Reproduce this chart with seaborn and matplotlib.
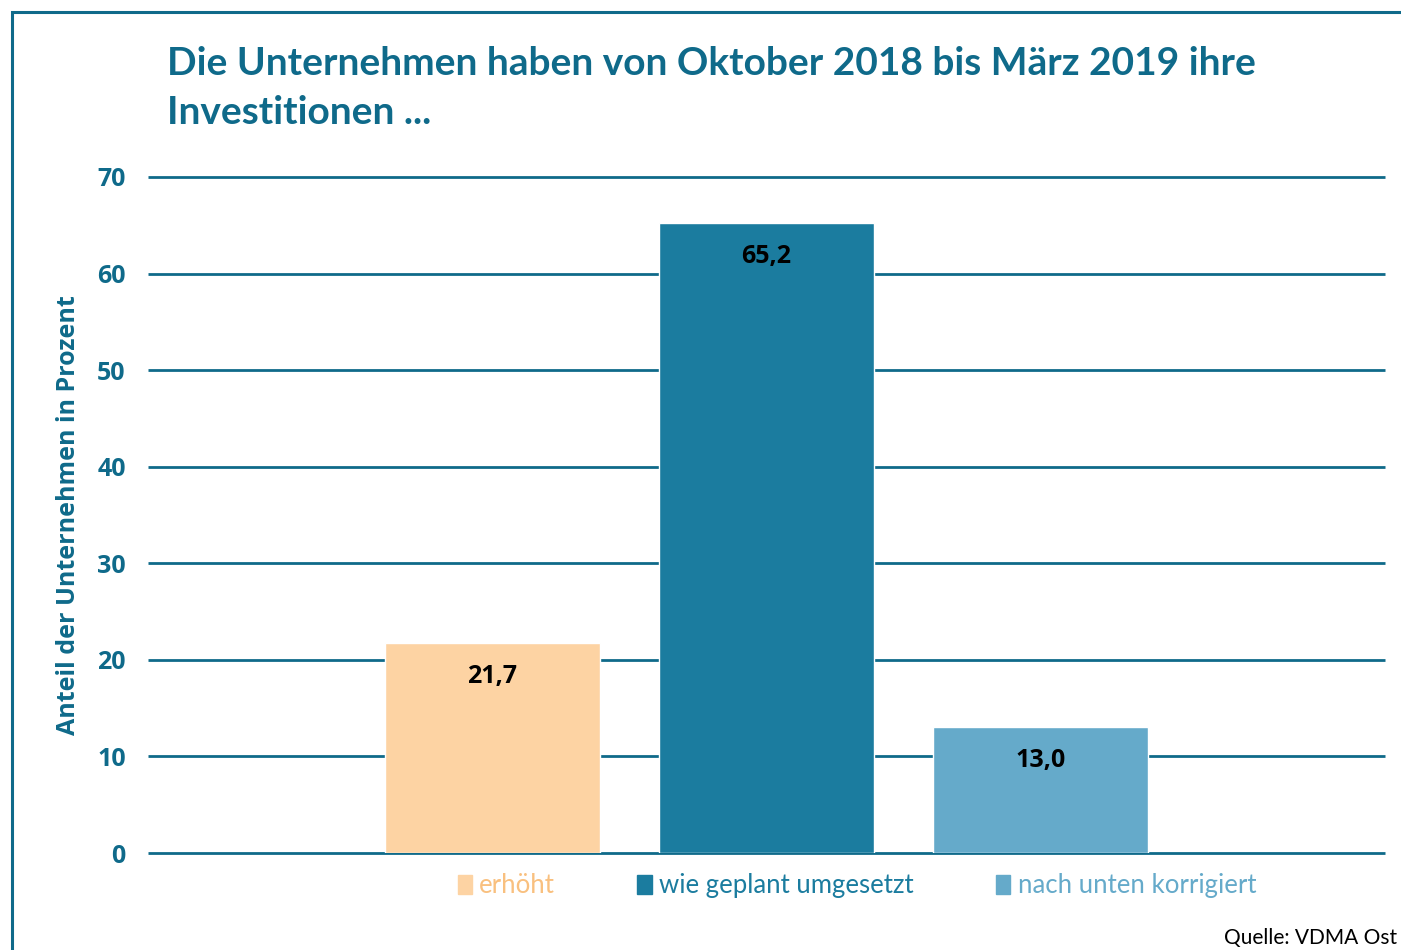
import pandas as pd
import matplotlib
matplotlib.use('Agg')
import matplotlib.pyplot as plt
import seaborn as sns
from matplotlib.patches import Rectangle

# Daten
kategorien = ['erhöht', 'wie geplant umgesetzt', 'nach unten korrigiert']
anteile = [21.7, 65.2, 13.0]
werte_text = ['21,7', '65,2', '13,0']
farben = ['#FDD3A3', '#1B7C9F', '#65AACA']
y_ticks = [0, 10, 20, 30, 40, 50, 60, 70]

teal = '#0F6A8A'

sns.set_theme(style='white')
plt.rcParams['font.family'] = ['Open Sans', 'DejaVu Sans']

df = pd.DataFrame({'gruppe': [''] * 3, 'Kategorie': kategorien, 'Anteil': anteile})

fig = plt.figure(figsize=(14.01, 9.5), dpi=100)
ax = fig.add_axes([0.1056, 0.1021, 0.883, 0.7116])

sns.barplot(data=df, x='gruppe', y='Anteil', hue='Kategorie', hue_order=kategorien,
            palette=farben, width=0.665, gap=0.215, edgecolor='white', linewidth=1,
            saturation=1, ax=ax, zorder=3)

ax.set_xlim(-0.5, 0.5)
ax.set_ylim(0, 70)
ax.set_yticks(y_ticks)
ax.set_yticklabels([str(t) for t in y_ticks], fontsize=18, fontweight='bold', color=teal)
ax.tick_params(axis='y', length=0, pad=16)
ax.set_xticks([])
ax.set_xlabel('')
ax.set_ylabel('Anteil der Unternehmen in Prozent', fontsize=18, fontweight='bold',
              color=teal)
ax.yaxis.set_label_coords(-0.054, 0.50)
for s in ax.spines.values():
    s.set_visible(False)
ax.grid(axis='y', color=teal, linewidth=2, zorder=0)
for gl in ax.get_ygridlines():
    gl.set_clip_on(False)
    gl.set_solid_capstyle('butt')
ax.set_axisbelow(True)

for cont, txt in zip(ax.containers, werte_text):
    ax.bar_label(cont, labels=[txt], padding=-33, fontsize=18, fontweight='bold', color='black')

# Legende
handles = [Rectangle((0, 0), 1, 1, color=c) for c in farben]
ax.get_legend().remove()
leg = fig.legend(handles, kategorien, loc='center', bbox_to_anchor=(857 / 1401, 1 - 886 / 950),
                 ncol=3, frameon=False, handlelength=0.55, handleheight=0.75,
                 handletextpad=0.3, columnspacing=3.2, prop={'family': ['Lato', 'DejaVu Sans'], 'size': 18.5})
for t, c in zip(leg.get_texts(), farben):
    t.set_color(c if c != '#FDD3A3' else '#F9C07F')

# Titel
fig.text(167 / 1401, 1 - 88 / 950, 'Die Unternehmen haben von Oktober 2018 bis März 2019 ihre\nInvestitionen ...',
         fontsize=28, fontweight='bold', color=teal, va='center', ha='left',
         linespacing=1.5, family=['Lato', 'DejaVu Sans'])

fig.text(1397 / 1401, 1 - 938 / 950, 'Quelle: VDMA Ost', fontsize=15, color='black',
         ha='right', va='center', family=['Lato', 'DejaVu Sans'])

# Rahmen
fig.add_artist(Rectangle((12 / 1401, -0.1), 1.2, 1 - 12 / 950 + 0.1, transform=fig.transFigure,
                         fill=False, edgecolor=teal, linewidth=2.2))

fig.savefig('out.png', dpi=100)
